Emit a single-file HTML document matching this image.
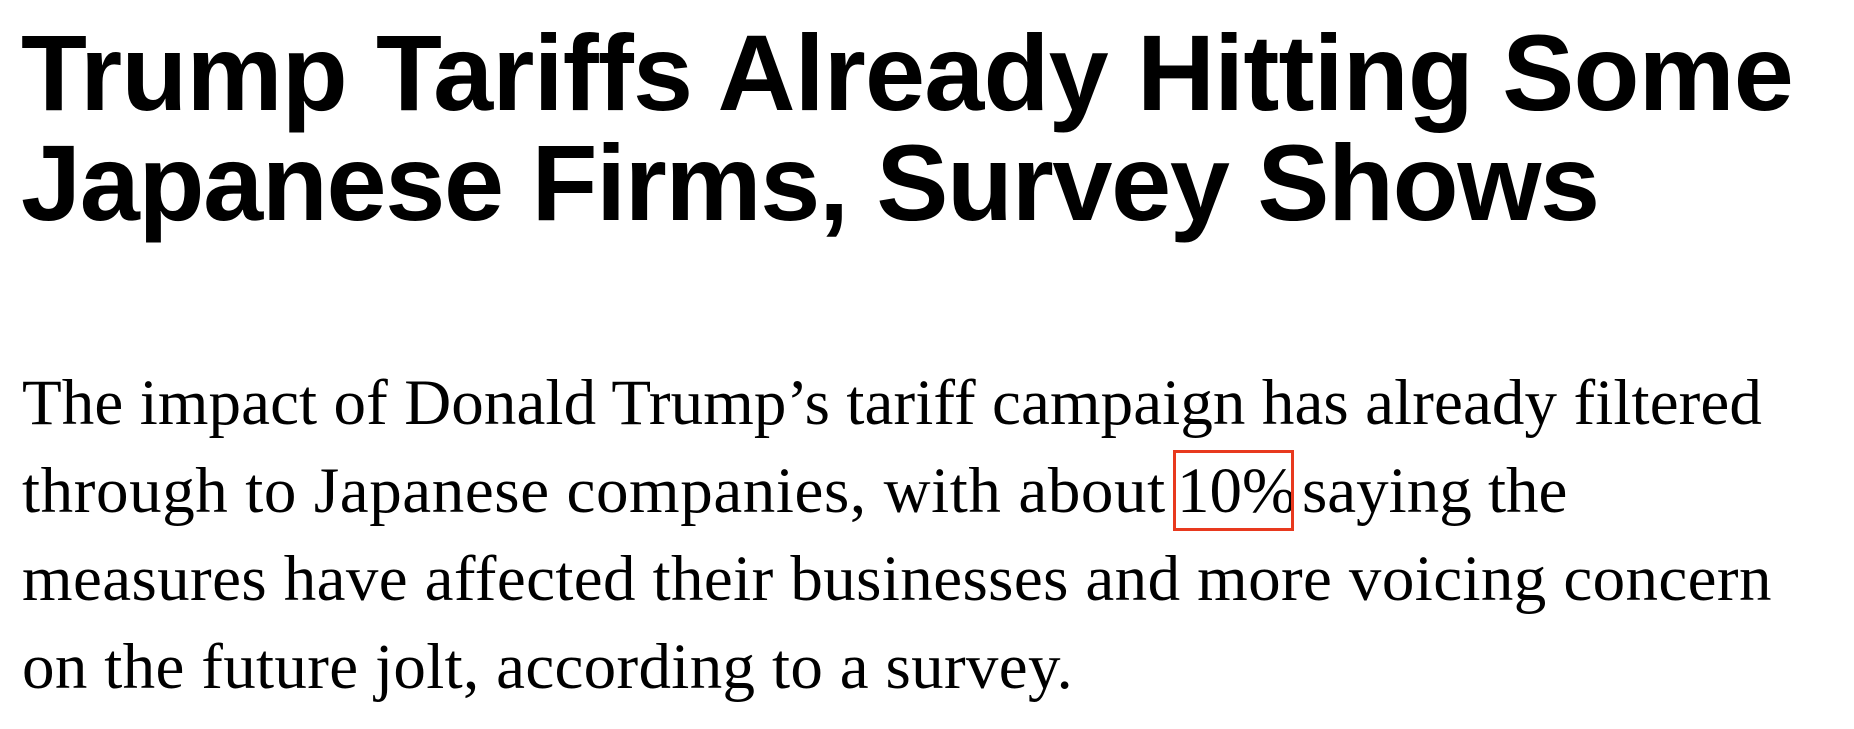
<!DOCTYPE html>
<html>
<head>
<meta charset="utf-8">
<style>
  html, body { margin:0; padding:0; background:#fff; }
  body { width:1854px; height:729px; position:relative; overflow:hidden; }
  .t { position:absolute; left:21px; font-family:"Liberation Sans", Arial, sans-serif; font-weight:bold; font-size:108px; line-height:108px; color:#000; white-space:nowrap; }
  .p { position:absolute; left:22px; font-family:"Liberation Serif", "Times New Roman", serif; font-size:65px; line-height:65px; color:#000; white-space:nowrap; }
  .box { position:absolute; left:1173px; top:450px; width:121px; height:81px; border:3px solid #e8391e; box-sizing:border-box; }
</style>
</head>
<body>
  <div class="t" style="top:18.6px;letter-spacing:-0.83px;">Trump Tariffs Already Hitting Some</div>
  <div class="t" style="top:128.6px;letter-spacing:-1.32px;">Japanese Firms, Survey Shows</div>

  <div class="p" style="top:370.6px;letter-spacing:0.1px;">The impact of Donald Trump’s tariff campaign has already filtered</div>
  <div class="p" style="top:458.6px;letter-spacing:0.6px;">through to Japanese companies, with about</div>
  <div class="p" style="top:458.6px;left:1177px;">10%</div>
  <div class="p" style="top:458.6px;left:1302px;">saying the</div>
  <div class="p" style="top:546.6px;letter-spacing:0.4px;">measures have affected their businesses and more voicing concern</div>
  <div class="p" style="top:634.6px;letter-spacing:0.33px;">on the future jolt, according to a survey.</div>

  <div class="box"></div>
</body>
</html>
